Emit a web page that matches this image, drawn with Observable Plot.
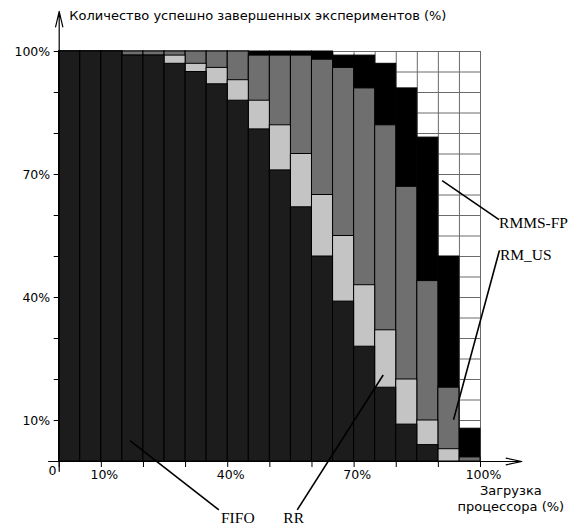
<!DOCTYPE html>
<html>
<head>
<meta charset="utf-8">
<script src="https://cdn.jsdelivr.net/npm/d3@7"></script>
<script src="https://cdn.jsdelivr.net/npm/@observablehq/plot@0.6"></script>
<style>
  html, body { margin: 0; padding: 0; background: #fff; }
  #chart svg { display: block; overflow: visible; }
</style>
</head>
<body>
<div id="chart"></div>
<script>
// ---- data ----
const loadStart = [0, 5, 10, 15, 20, 25, 30, 35, 40, 45, 50, 55, 60, 65, 70, 75, 80, 85, 90, 95];
const binWidth = 5;
const rmmsfp = [100, 100, 100, 100, 100, 100, 100, 100, 100, 100, 100, 100, 100, 99, 99, 97, 91, 79, 50, 8];
const rmus   = [100, 100, 100, 100, 100, 100, 100, 100, 100, 99, 99, 99, 98, 96, 91, 82, 67, 44, 18, 1];
const rr     = [100, 100, 100, 99, 99, 99, 97, 96, 93, 88, 82, 75, 65, 55, 43, 32, 20, 10, 3, 0];
const fifo   = [100, 100, 100, 99, 99, 97, 95, 92, 88, 81, 71, 62, 50, 39, 28, 18, 9, 4, 0, 0];
const yTicks = [10, 20, 30, 40, 50, 60, 70, 80, 90, 100];
const yTickLabels = [10, 40, 70, 100];
const xTicks = [0, 10, 20, 30, 40, 50, 60, 70, 80, 90, 100];
const xTickLabels = [10, 40, 70, 100];
const gridSteps = [0, 5, 10, 15, 20, 25, 30, 35, 40, 45, 50, 55, 60, 65, 70, 75, 80, 85, 90, 95, 100];

const yTitle = "Количество успешно завершенных экспериментов (%)";
const xTitle = ["Загрузка", "процессора (%)"];

// series drawn back to front (best algorithm behind)
const series = [
  {name: "RMMS-FP", values: rmmsfp, fill: "#000000"},
  {name: "RM_US",   values: rmus,   fill: "#6f6f6f"},
  {name: "RR",      values: rr,     fill: "#c4c4c4"},
  {name: "FIFO",    values: fifo,   fill: "#1c1c1c"}
];

// annotation anchors (in data units: load %, success %)
const callouts = [
  {name: "RMMS-FP", x1: 90.9, y1: 68.5, x2: 104.4, y2: 59.0, tx: 104.4, ty: 58.2},
  {name: "RM_US",   x1: 93.6, y1: 10.2, x2: 104.5, y2: 51.5, tx: 104.6, ty: 50.3},
  {name: "FIFO",    x1: 16.8, y1: 5.1,  x2: 37.9,  y2: -11.8, tx: 38.4, ty: -13.9},
  {name: "RR",      x1: 76.9, y1: 21.1, x2: 56.5,  y2: -11.8, tx: 53.2, ty: -13.9}
];

const bars = series.flatMap(s =>
  loadStart.map((lo, i) => ({series: s.name, fill: s.fill, lo, hi: lo + binWidth, value: s.values[i]}))
    .filter(d => d.value > 0)
);

const chart = Plot.plot({
  width: 583,
  height: 526,
  marginLeft: 58.7,
  marginRight: 103,
  marginTop: 51,
  marginBottom: 65,
  x: {domain: [0, 100]},
  y: {domain: [0, 100]},
  style: {fontFamily: "DejaVu Sans, sans-serif", fontSize: "12.5px", background: "#fff", color: "#000", overflow: "visible"},
  marks: [
    // white grid behind the bars
    Plot.ruleX(gridSteps, {x: d => d, y1: 0, y2: 100, stroke: "#6a6a6a", strokeWidth: 1}),
    Plot.ruleY(gridSteps, {y: d => d, x1: 0, x2: 100, stroke: "#6a6a6a", strokeWidth: 1}),
    // overlapping bars
    Plot.rectY(bars, {x1: "lo", x2: "hi", y1: 0, y2: "value", fill: "fill", stroke: "#000", strokeWidth: 1}),
    // axes
    Plot.axisY({ticks: yTicks, tickSize: 5, tickPadding: 4, tickFormat: d => yTickLabels.includes(d) ? d + "%" : ""}),
    Plot.axisX({ticks: xTicks, tickSize: 6, tickFormat: () => ""}),
    Plot.axisX({ticks: xTickLabels, tickSize: 0, tickPadding: 9, dx: 3, tickFormat: d => d + "%"}),
    Plot.arrow([0], {x1: 0, x2: 0, y1: -2.4, y2: 109.8, stroke: "#000", strokeWidth: 1.2, headLength: 20, headAngle: 26}),
    Plot.arrow([0], {x1: -2.5, x2: 109.8, y1: 0, y2: 0, stroke: "#000", strokeWidth: 1.2, headLength: 20, headAngle: 24}),
    Plot.text(["0"], {x: -1.6, y: -2.4, text: d => d, fontSize: 12.5}),
    // titles
    Plot.text([yTitle], {x: 2.4, y: 108.8, text: d => d, textAnchor: "start", fontSize: 13}),
    Plot.text(xTitle, {x: 107.2, y: (d, i) => [-7.2, -11.1][i], text: d => d, fontSize: 13}),
    // callouts
    Plot.link(callouts, {x1: "x1", y1: "y1", x2: "x2", y2: "y2", stroke: "#000", strokeWidth: 1.6}),
    Plot.text(callouts, {x: "tx", y: "ty", text: "name", textAnchor: "start", fontFamily: "Liberation Serif, serif", fontSize: 15.5})
  ]
});

document.getElementById("chart").appendChild(chart);
</script>
</body>
</html>
